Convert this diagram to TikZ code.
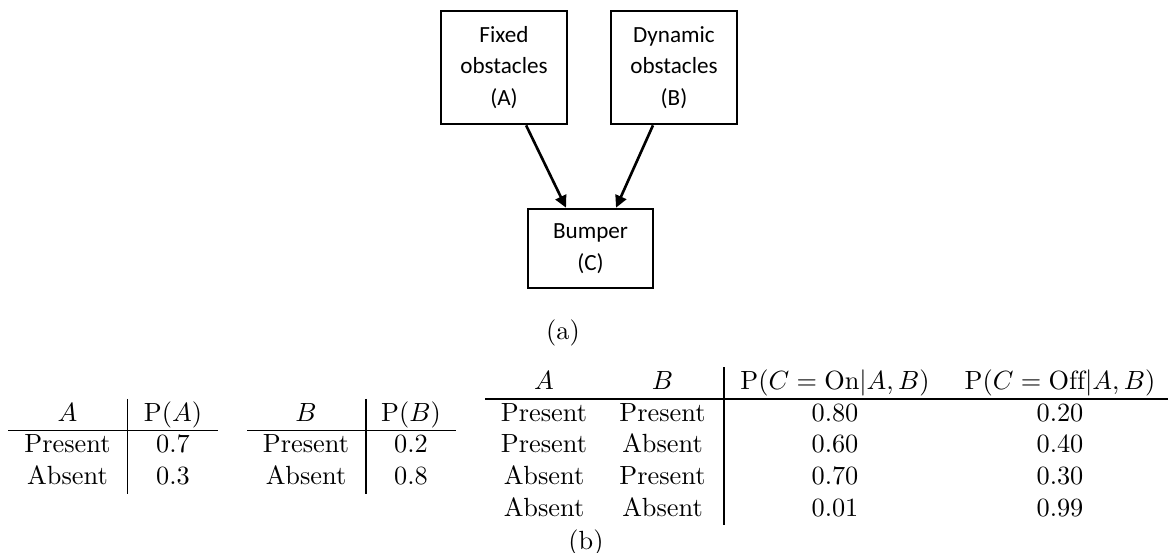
\documentclass[tikz,border=0pt]{standalone}
\usepackage{fontspec}
\usepackage{amsmath}
\newfontfamily\boxfont{Carlito}
\usetikzlibrary{arrows.meta}
\begin{document}
\begin{tikzpicture}[
  x=0.38023pt, y=-0.38023pt,
  block/.style={draw, line width=1pt, inner sep=0pt, align=center,
    font=\boxfont\fontsize{8.8}{12}\selectfont},
  link/.style={line width=1pt, -{Triangle[length=4.6pt,width=4.4pt]}},
  cell/.style={anchor=base, inner sep=0pt, font=\fontsize{10}{12}\selectfont},
  rule/.style={line width=0.4pt}
]
\useasboundingbox (0,0) rectangle (1169,553);

% (a) network of the three variables
\node[block, minimum width=47.9pt, minimum height=43pt] (fixed) at (504,67.5)
  {Fixed\\obstacles\\(A)};
\node[block, minimum width=47.9pt, minimum height=43pt] (dyn) at (674,67.5)
  {Dynamic\\obstacles\\(B)};
\node[block, minimum width=47.5pt, minimum height=30pt] (bump) at (590.5,248.5)
  {Bumper\\(C)};
\draw[link] ([xshift=8.4pt]fixed.south) -- ([xshift=-9.3pt]bump.north);
\draw[link] ([xshift=-8pt]dyn.south) -- ([xshift=9.7pt]bump.north);
\node[cell] (capa) at (563,339.5) {(a)};

% (b) table for A
\node[cell] (ah1) at (67.5,421.4) {$A$};
\node[cell] (ah2) at (173,421.4) {$\mathrm{P}(A)$};
\node[cell] (ar1a) at (67.5,453) {Present};
\node[cell] (ar1b) at (173,453) {0.7};
\node[cell] (ar2a) at (67.5,484.6) {Absent};
\node[cell] (ar2b) at (173,484.6) {0.3};
\draw[rule] (8,430.6) -- (218,430.6);
\draw[rule] (127.5,399) -- (127.5,493.8);

% table for B
\node[cell] (bh1) at (306,421.4) {$B$};
\node[cell] (bh2) at (411,421.4) {$\mathrm{P}(B)$};
\node[cell] (br1a) at (306,453) {Present};
\node[cell] (br1b) at (411,453) {0.2};
\node[cell] (br2a) at (306,484.6) {Absent};
\node[cell] (br2b) at (411,484.6) {0.8};
\draw[rule] (247,430.6) -- (456,430.6);
\draw[rule] (366,399) -- (366,493.8);

% conditional table for C
\node[cell] (ch1) at (544,389.8) {$A$};
\node[cell] (ch2) at (662.5,389.8) {$B$};
\node[cell] (ch3) at (835,389.8) {$\mathrm{P}(C=\mathrm{On}|A,B)$};
\node[cell] (ch4) at (1060,389.8) {$\mathrm{P}(C=\mathrm{Off}|A,B)$};
\foreach \a/\b/\p/\q [count=\i] in {Present/Present/0.80/0.20,
                                    Present/Absent/0.60/0.40,
                                    Absent/Present/0.70/0.30,
                                    Absent/Absent/0.01/0.99}{
  \node[cell] (c\i a) at (544,389.8+31.6*\i) {\a};
  \node[cell] (c\i b) at (662.5,389.8+31.6*\i) {\b};
  \node[cell] (c\i c) at (835,389.8+31.6*\i) {\p};
  \node[cell] (c\i d) at (1060,389.8+31.6*\i) {\q};
}
\draw[rule] (485,399) -- (1168,399);
\draw[rule] (724,367.4) -- (724,525.4);
\node[cell] (capb) at (586,549.5) {(b)};
\end{tikzpicture}
\end{document}
